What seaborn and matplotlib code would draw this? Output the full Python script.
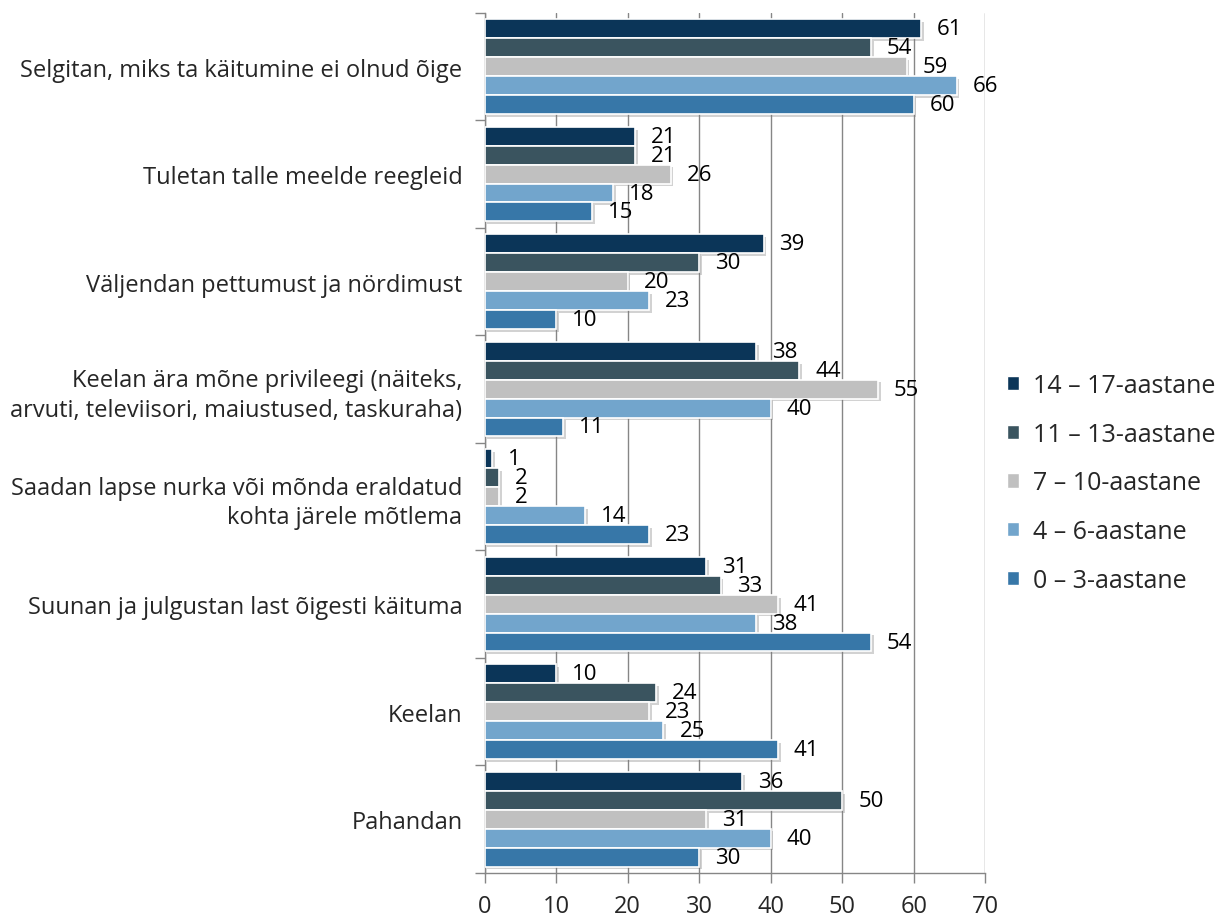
import matplotlib.pyplot as plt
import matplotlib.patheffects as pe
import matplotlib.patches as mpatches
import numpy as np
import pandas as pd
import seaborn as sns

categories = [
    "Selgitan, miks ta käitumine ei olnud õige",
    "Tuletan talle meelde reegleid",
    "Väljendan pettumust ja nördimust",
    "Keelan ära mõne privileegi (näiteks,\narvuti, televiisori, maiustused, taskuraha)",
    "Saadan lapse nurka või mõnda eraldatud\nkohta järele mõtlema",
    "Suunan ja julgustan last õigesti käituma",
    "Keelan",
    "Pahandan",
]
groups = ["14 – 17-aastane", "11 – 13-aastane", "7 – 10-aastane", "4 – 6-aastane", "0 – 3-aastane"]
age_14_17 = [61, 21, 39, 38, 1, 31, 10, 36]
age_11_13 = [54, 21, 30, 44, 2, 33, 24, 50]
age_7_10 = [59, 26, 20, 55, 2, 41, 23, 31]
age_4_6 = [66, 18, 23, 40, 14, 38, 25, 40]
age_0_3 = [60, 15, 10, 11, 23, 54, 41, 30]
colors = ["#0B3558", "#3A545F", "#C0C0C0", "#72A5CC", "#3777A8"]

series = [age_14_17, age_11_13, age_7_10, age_4_6, age_0_3]
df = pd.DataFrame(
    [
        {"category": c, "group": g, "value": v}
        for g, vals in zip(groups, series)
        for c, v in zip(categories, vals)
    ]
)

sns.set_theme(style="white")
plt.rcParams["font.family"] = ["Open Sans", "DejaVu Sans"]

fig = plt.figure(figsize=(12.3, 9.2), dpi=100)
ax = fig.add_axes([0.394, 0.05, 0.407, 0.935])

sns.barplot(
    data=df,
    y="category",
    x="value",
    hue="group",
    order=categories,
    hue_order=groups,
    palette=colors,
    saturation=1,
    orient="h",
    width=0.88,
    edgecolor="white",
    linewidth=1.2,
    legend=False,
    ax=ax,
    zorder=3,
)

shadow = [pe.SimplePatchShadow(offset=(2, -2), shadow_rgbFace="#808080", alpha=0.35), pe.Normal()]
for bar in ax.patches:
    bar.set_path_effects(shadow)

for container in ax.containers:
    for bar in container:
        w = bar.get_width()
        y = bar.get_y() + bar.get_height() / 2
        ax.annotate(
            f"{w:.0f}", xy=(w, y), xytext=(16, 0), textcoords="offset pixels",
            ha="left", va="center", fontsize=16, color="black", zorder=5,
        )

ax.set_xlim(0, 70)
ax.set_ylim(len(categories) - 0.5, -0.5)
ax.set_xticks(np.arange(0, 71, 10))
ax.tick_params(axis="x", labelsize=17, length=7, width=1, color="#868686", direction="out", pad=8, bottom=True)
ax.set_yticks(range(len(categories)))
ax.set_yticklabels(categories, fontsize=17, linespacing=1.3)
ax.tick_params(axis="y", length=0, pad=16)
ax.set_yticks(np.arange(-0.5, len(categories), 1), minor=True)
ax.tick_params(axis="y", which="minor", length=7, width=1, color="#868686", left=True)

ax.grid(axis="x", color="#868686", linewidth=1, zorder=0)
ax.set_axisbelow(True)
for side in ["top", "right"]:
    ax.spines[side].set_visible(False)
for side in ["left", "bottom"]:
    ax.spines[side].set_color("#868686")
    ax.spines[side].set_linewidth(1)
ax.set_xlabel("")
ax.set_ylabel("")

handles = [mpatches.Patch(facecolor=c, edgecolor="white", label=g) for g, c in zip(groups, colors)]
fig.legend(
    handles=handles,
    loc="center left",
    bbox_to_anchor=(0.8, 0.474),
    frameon=False,
    fontsize=18,
    handlelength=0.5,
    handleheight=0.5,
    handletextpad=0.55,
    labelspacing=0.95,
)

fig.savefig("out.png", dpi=100)
